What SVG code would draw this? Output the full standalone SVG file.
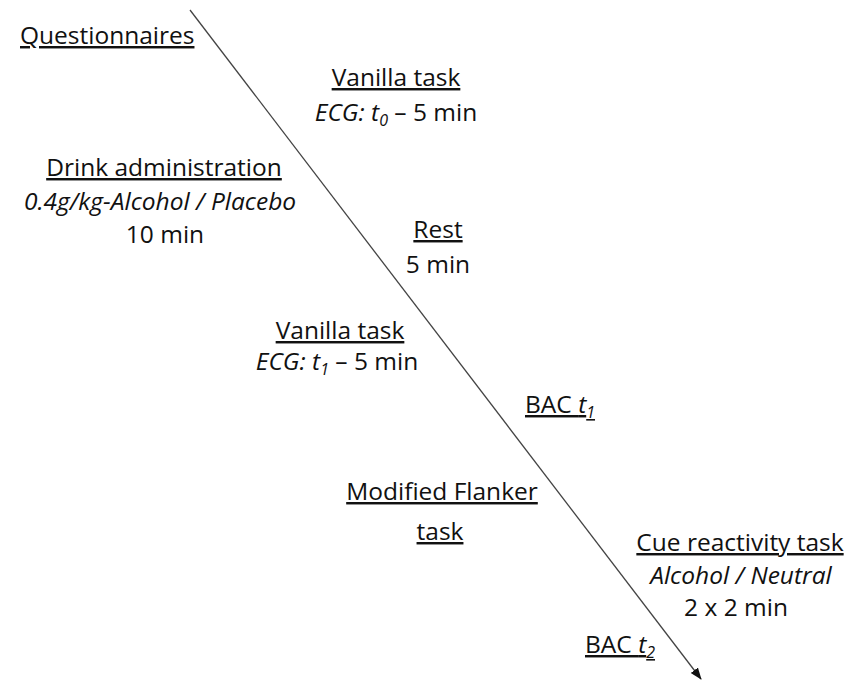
<svg xmlns="http://www.w3.org/2000/svg" width="860" height="680" viewBox="0 0 860 680">
<style>
text{font-family:"Open Sans","Noto Sans",sans-serif;font-size:24.5px;fill:#111;}
.u{text-decoration:underline;}
.c{text-anchor:middle;}
.i{font-style:italic;}
.sub{font-size:16px;font-style:italic;}
</style>
<defs>
<marker id="ah" markerWidth="12" markerHeight="12" refX="11" refY="6" orient="auto" markerUnits="userSpaceOnUse">
<path d="M0,1.5 L12,6 L0,10.5 Z" fill="#111"/>
</marker>
</defs>
<rect width="860" height="680" fill="#fff"/>
<g id="connectors">
<line x1="190" y1="10" x2="701" y2="679" stroke="#444" stroke-width="1.3" marker-end="url(#ah)"/>
</g>
<g id="questionnaires"><text x="20" y="44" class="u">Questionnaires</text></g>
<g id="vanilla1">
<text x="396" y="86" class="c u">Vanilla task</text>
<text x="396" y="121" class="c"><tspan class="i">ECG: t</tspan><tspan class="sub" dy="5">0</tspan><tspan dy="-5"> – 5 min</tspan></text>
</g>
<g id="drink">
<text x="164" y="176" class="c u">Drink administration</text>
<text x="160" y="210" class="c i">0.4g/kg-Alcohol / Placebo</text>
<text x="165" y="243" class="c">10 min</text>
</g>
<g id="rest">
<text x="438" y="238" class="c u">Rest</text>
<text x="438" y="273" class="c">5 min</text>
</g>
<g id="vanilla2">
<text x="340" y="339" class="c u">Vanilla task</text>
<text x="337" y="370" class="c"><tspan class="i">ECG: t</tspan><tspan class="sub" dy="5">1</tspan><tspan dy="-5"> – 5 min</tspan></text>
</g>
<g id="bac1"><text x="525" y="413" class="u">BAC <tspan class="i">t</tspan><tspan class="sub" dy="5">1</tspan></text></g>
<g id="flanker">
<text x="442" y="500" class="c u">Modified Flanker</text>
<text x="440" y="540" class="c u">task</text>
</g>
<g id="cue">
<text x="740" y="551" class="c u">Cue reactivity task</text>
<text x="741" y="584" class="c i">Alcohol / Neutral</text>
<text x="736" y="616" class="c">2 x 2 min</text>
</g>
<g id="bac2"><text x="585" y="653" class="u">BAC <tspan class="i">t</tspan><tspan class="sub" dy="5">2</tspan></text></g>
</svg>
